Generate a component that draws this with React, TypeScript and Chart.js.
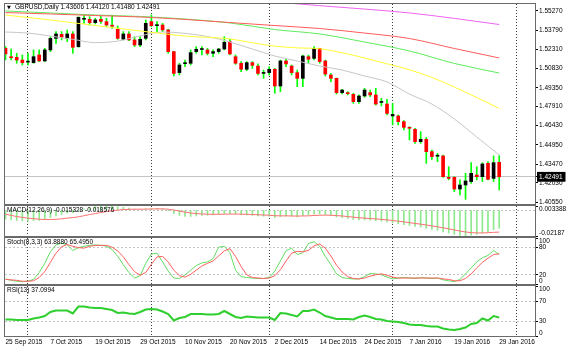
import React, { useEffect, useRef } from 'react';
import { Chart, registerables } from 'chart.js';

Chart.register(...registerables);

const FONT = '"Liberation Sans", Arial, sans-serif';
const FS = 6.5;
const transparent = 'rgba(0,0,0,0)';

// ---------- data ----------
const dateIdx = [0, 8, 16, 24, 32, 40, 48, 56, 64, 72, 80, 88];
const dateLabels = ['25 Sep 2015', '7 Oct 2015', '19 Oct 2015', '29 Oct 2015', '10 Nov 2015', '20 Nov 2015',
  '2 Dec 2015', '14 Dec 2015', '24 Dec 2015', '7 Jan 2016', '19 Jan 2016', '29 Jan 2016'];
const monthSepIdx = [4, 26, 47, 69, 91];

const open = [1.5239, 1.5170, 1.5170, 1.5149, 1.5133, 1.5129, 1.5188, 1.5142, 1.5227, 1.5316,
  1.5347, 1.5316, 1.5350, 1.5252, 1.5463, 1.5463, 1.5437, 1.5463, 1.5445, 1.5414,
  1.5386, 1.5309, 1.5350, 1.5304, 1.5265, 1.5316, 1.5445, 1.5414, 1.5419, 1.5381,
  1.5214, 1.5052, 1.5121, 1.5124, 1.5214, 1.5230, 1.5227, 1.5201, 1.5214, 1.5234,
  1.5291, 1.5175, 1.5124, 1.5078, 1.5129, 1.5103, 1.5046, 1.5052, 1.5078, 1.4949,
  1.5142, 1.5103, 1.5052, 1.5008, 1.5175, 1.5162, 1.5239, 1.5142, 1.5034, 1.5008,
  1.4898, 1.4893, 1.4885, 1.4828, 1.4872, 1.4898, 1.4880, 1.4822, 1.4810, 1.4718,
  1.4718, 1.4674, 1.4628, 1.4615, 1.4520, 1.4538, 1.4443, 1.4408, 1.4410, 1.4245,
  1.4245, 1.4155, 1.4186, 1.4212, 1.4263, 1.4250, 1.4353, 1.4237, 1.43606];
const high = [1.5252, 1.5234, 1.5201, 1.5188, 1.5201, 1.5227, 1.5227, 1.5239, 1.5329, 1.5368,
  1.5368, 1.5381, 1.5368, 1.5483, 1.5496, 1.5483, 1.5471, 1.5489, 1.5471, 1.5496,
  1.5412, 1.5368, 1.5368, 1.5329, 1.5329, 1.5458, 1.5496, 1.5445, 1.5432, 1.5386,
  1.5216, 1.5124, 1.5149, 1.5227, 1.5252, 1.5252, 1.5239, 1.5227, 1.5239, 1.5329,
  1.5309, 1.5188, 1.5137, 1.5137, 1.5137, 1.5119, 1.5072, 1.5098, 1.5085, 1.5149,
  1.5155, 1.5111, 1.5072, 1.5188, 1.5188, 1.5252, 1.5240, 1.5149, 1.5046, 1.5010,
  1.4923, 1.4905, 1.4893, 1.4880, 1.4931, 1.4918, 1.4931, 1.4854, 1.4846, 1.4815,
  1.4726, 1.4682, 1.4636, 1.4623, 1.4597, 1.4553, 1.4456, 1.4430, 1.4417, 1.4327,
  1.4250, 1.4225, 1.4276, 1.4358, 1.4327, 1.4358, 1.4366, 1.4410, 1.44120];
const low = [1.5149, 1.5149, 1.5124, 1.5111, 1.5111, 1.5124, 1.5137, 1.5137, 1.5214, 1.5278,
  1.5304, 1.5291, 1.5201, 1.5247, 1.5432, 1.5419, 1.5427, 1.5432, 1.5406, 1.5393,
  1.5309, 1.5304, 1.5298, 1.5252, 1.5252, 1.5304, 1.5406, 1.5368, 1.5368, 1.5201,
  1.5026, 1.5034, 1.5098, 1.5111, 1.5201, 1.5188, 1.5188, 1.5175, 1.5201, 1.5227,
  1.5188, 1.5116, 1.5059, 1.5067, 1.5085, 1.5034, 1.5008, 1.5034, 1.4893, 1.4905,
  1.5098, 1.5034, 1.4944, 1.4944, 1.5124, 1.5149, 1.5124, 1.5026, 1.4982, 1.4887,
  1.4887, 1.4880, 1.4815, 1.4815, 1.4862, 1.4867, 1.4802, 1.4795, 1.4726, 1.4649,
  1.4649, 1.4610, 1.4533, 1.4507, 1.4507, 1.4353, 1.4384, 1.4366, 1.4245, 1.4225,
  1.4135, 1.4109, 1.4076, 1.4199, 1.4225, 1.4212, 1.4225, 1.4212, 1.41480];
const close = [1.5196, 1.5167, 1.5149, 1.5129, 1.5137, 1.5175, 1.5142, 1.5227, 1.5316, 1.5350,
  1.5324, 1.5350, 1.5247, 1.5478, 1.5471, 1.5437, 1.5458, 1.5447, 1.5419, 1.5410,
  1.5316, 1.5350, 1.5304, 1.5265, 1.5309, 1.5432, 1.5414, 1.5421, 1.5381, 1.5214,
  1.5046, 1.5111, 1.5126, 1.5206, 1.5232, 1.5234, 1.5201, 1.5214, 1.5234, 1.5286,
  1.5196, 1.5124, 1.5078, 1.5129, 1.5108, 1.5046, 1.5052, 1.5078, 1.4949, 1.5142,
  1.5119, 1.5052, 1.5008, 1.5180, 1.5155, 1.5239, 1.5137, 1.5041, 1.5008, 1.4898,
  1.4918, 1.4890, 1.4828, 1.4872, 1.4918, 1.4880, 1.4810, 1.4830, 1.4738, 1.4730,
  1.4674, 1.4630, 1.4623, 1.4520, 1.4538, 1.4443, 1.4405, 1.4410, 1.4250, 1.4237,
  1.4155, 1.4186, 1.4217, 1.4276, 1.4250, 1.4348, 1.4230, 1.4358, 1.42491];

const maMagentaIdx = [32, 40, 48, 56, 64, 72, 80, 88];
const maMagenta = [1.5652, 1.5625, 1.5597, 1.5568, 1.5542, 1.5512, 1.5470, 1.5423];
const maRedIdx = [0, 8, 16, 24, 32, 40, 48, 56, 64, 72, 80, 88];
const maRed = [1.5515, 1.5504, 1.5492, 1.5481, 1.5462, 1.5438, 1.5415, 1.5392, 1.5357, 1.5315, 1.5238, 1.5165];
const maGreenIdx = [0, 8, 16, 24, 32, 40, 48, 56, 64, 72, 80, 88];
const maGreen = [1.5527, 1.5512, 1.5496, 1.5485, 1.5465, 1.5435, 1.5384, 1.5350, 1.5288, 1.5219, 1.5123, 1.5049];
const maYellowIdx = [0, 8, 16, 24, 32, 40, 44, 48, 52, 56, 60, 64, 68, 72, 76, 80, 84, 88];
const maYellow = [1.5496, 1.5458, 1.5415, 1.5373, 1.5334, 1.5312, 1.5282, 1.5256, 1.5243, 1.5236, 1.5205, 1.5165,
  1.5120, 1.5074, 1.5015, 1.4941, 1.4860, 1.4777];
const maGrayIdx = [0, 4, 8, 12, 16, 20, 24, 28, 32, 36, 40, 44, 48, 52, 56, 60, 64, 68, 72, 76, 80, 84, 88];
const maGray = [1.5365, 1.5357, 1.5334, 1.5309, 1.5283, 1.5295, 1.5335, 1.5365, 1.5355, 1.5330, 1.5288, 1.5234,
  1.5180, 1.5142, 1.5103, 1.5072, 1.5026, 1.4980, 1.4887, 1.4810, 1.4695, 1.4556, 1.4417];

const priceTicks = [1.5527, 1.5379, 1.5231, 1.5083, 1.4935, 1.4791, 1.4643, 1.4495, 1.4347, 1.4203, 1.4055];
const lastClose = 1.42491;
const PRICE_MIN = 1.40396;
const PRICE_MAX = 1.55809;

const macdMain = [-0.0078, -0.0083, -0.0088, -0.0092, -0.0093, -0.0090, -0.0088, -0.0080, -0.0065, -0.0050,
  -0.0038, -0.0026, -0.0022, -0.0005, 0.0010, 0.0020, 0.0028, 0.0032, 0.003388, 0.0033,
  0.0027, 0.0023, 0.0016, 0.0008, 0.0004, 0.0010, 0.0012, 0.0013, 0.0011, -0.0003,
  -0.0030, -0.0045, -0.0054, -0.0054, -0.0050, -0.0046, -0.0044, -0.0041, -0.0036, -0.0030,
  -0.0030, -0.0034, -0.0040, -0.0042, -0.0045, -0.0050, -0.0052, -0.0053, -0.0063, -0.0055,
  -0.0050, -0.0052, -0.0057, -0.0048, -0.0042, -0.0034, -0.0033, -0.0040, -0.0046, -0.0058,
  -0.0065, -0.0072, -0.0080, -0.0083, -0.0083, -0.0085, -0.0090, -0.0094, -0.0101, -0.0108,
  -0.0116, -0.0124, -0.0130, -0.0139, -0.0144, -0.0155, -0.0164, -0.0170, -0.0184, -0.0193,
  -0.0205, -0.0213, -0.02187, -0.0212, -0.0205, -0.0193, -0.0183, -0.0166, -0.015328];
const macdSignal = [-0.0035, -0.0045, -0.0055, -0.0062, -0.0068, -0.0073, -0.0077, -0.0080, -0.0080, -0.0078,
  -0.0074, -0.0068, -0.0064, -0.0057, -0.0048, -0.0038, -0.0030, -0.0021, -0.0013, -0.0006,
  -0.0001, 0.0004, 0.0006, 0.0007, 0.0007, 0.0008, 0.0009, 0.0010, 0.0010, 0.0007,
  0.0000, -0.0009, -0.0018, -0.0025, -0.0030, -0.0033, -0.0035, -0.0036, -0.0036, -0.0035,
  -0.0034, -0.0034, -0.0035, -0.0036, -0.0038, -0.0040, -0.0042, -0.0044, -0.0048, -0.0049,
  -0.0049, -0.0050, -0.0051, -0.0050, -0.0049, -0.0046, -0.0044, -0.0043, -0.0044, -0.0047,
  -0.0050, -0.0055, -0.0060, -0.0065, -0.0068, -0.0072, -0.0075, -0.0079, -0.0083, -0.0088,
  -0.0094, -0.0100, -0.0106, -0.0113, -0.0119, -0.0126, -0.0134, -0.0141, -0.0150, -0.0158,
  -0.0168, -0.0177, -0.0185, -0.0190, -0.0193, -0.0193, -0.0191, -0.0188, -0.018576];
const macdTicks = [-0.02187, 0, 0.003388];
const macdTickLabels = ['-0.02187', '', '0.003388'];

const stochMain = [11, 8, 6, 5, 6, 10, 25, 45, 70, 85,
  89, 85, 73, 79, 82, 84, 85, 84, 82, 75,
  60, 42, 25, 13, 18, 45, 65, 67, 48, 28,
  13, 12, 20, 30, 40, 46, 48, 55, 80, 82,
  68, 30, 16, 14, 13, 12, 12, 14, 28, 50,
  72, 78, 64, 68, 88, 92, 82, 60, 42, 22,
  14, 12, 11, 11, 16, 23, 22, 20, 15, 11,
  13, 14, 13, 12, 14, 13, 12, 13, 9, 7,
  5, 10, 22, 35, 48, 57, 62, 73, 63.888];
const stochSignal = [10, 9, 8, 6, 6, 7, 14, 27, 47, 67,
  81, 86, 82, 79, 78, 82, 84, 84, 84, 80,
  72, 59, 42, 27, 19, 25, 43, 59, 60, 48,
  30, 18, 15, 21, 30, 39, 45, 50, 61, 72,
  77, 60, 38, 20, 14, 13, 12, 13, 18, 31,
  50, 67, 71, 70, 73, 83, 87, 78, 61, 41,
  26, 16, 12, 11, 13, 17, 20, 22, 19, 15,
  13, 13, 13, 13, 13, 13, 13, 13, 11, 10,
  7, 7, 12, 22, 35, 47, 56, 64, 65.495];
const stochTicks = [0, 20, 80, 100];

const rsi = [33, 33, 32, 32, 32, 35, 37, 40, 48, 51,
  51, 51, 45, 59, 59, 57, 56, 56, 54, 52,
  46, 47, 45, 44, 48, 53, 54, 53, 49, 44,
  31, 36, 38, 44, 44, 44, 43, 43, 44, 50,
  44, 38, 36, 39, 38, 37, 37, 37, 32, 46,
  45, 42, 39, 50, 50, 53, 47, 40, 37, 34,
  34, 34, 33, 38, 41, 38, 34, 33, 30, 29,
  28, 26, 23, 22, 22, 20, 19, 19, 15, 13,
  12, 14, 17, 24, 26, 35, 31, 40, 37.0994];
const rsiTicks = [0, 30, 70, 100];

const mainTitle = 'GBPUSD,Daily 1.43606 1.44120 1.41480 1.42491';
const macdTitle = 'MACD(12,26,9) -0.015328 -0.018576';
const stochTitle = 'Stoch(8,3,3) 63.8880 65.4950';
const rsiTitle = 'RSI(13) 37.0994';

// ---------- layout helpers ----------
const X_MIN = -0.09;
const X_MAX = 94.38;
const idx = close.map((_, i) => i);

const panelDeco = {
  id: 'panelDeco',
  beforeDraw(chart: any, _a: any, opts: any) {
    if (!opts.edgeLabels) return;
    const s = chart.scales.y;
    const items = s.getLabelItems();
    for (const it of items) {
      const ty = it.options.translation[1];
      if (ty <= s.top + 0.5) it.options.textBaseline = 'top';
      else if (ty >= s.bottom - 0.5) it.options.textBaseline = 'bottom';
    }
  },
  afterDraw(chart: any, _a: any, opts: any) {
    const { ctx, chartArea: a } = chart;
    ctx.save();
    ctx.strokeStyle = '#6a6a6a';
    ctx.lineWidth = 1;
    ctx.strokeRect(a.left - 0.5, a.top - 0.5, a.right - a.left + 1, a.bottom - a.top + 1);
    if (opts.title) {
      ctx.fillStyle = '#000';
      ctx.textBaseline = 'middle';
      ctx.textAlign = 'left';
      ctx.font = `${FS}px ${FONT}`;
      ctx.fillText(opts.title, opts.tx, opts.ty);
      if (opts.arrow) {
        ctx.font = '5px "DejaVu Sans"';
        ctx.fillText('\u25BC', 7, opts.ty);
      }
    }
    ctx.restore();
  },
};

const xHidden = () => ({
  type: 'linear', min: X_MIN, max: X_MAX, bounds: 'data', offset: false, display: false,
  grid: { offset: false },
});
const xSep = () => ({
  type: 'linear', position: 'top', min: X_MIN, max: X_MAX, bounds: 'data', offset: false,
  afterBuildTicks: (s: any) => { s.ticks = monthSepIdx.map((v) => ({ value: v })); },
  afterFit: (s: any) => { s.height = 0; },
  ticks: { display: false },
  grid: { offset: false, drawTicks: false, color: '#3a3a3a', lineWidth: 1 },
  border: { display: false, dash: [1, 2] },
});

function yAxis(min: number, max: number, ticks: number[], label: (v: number) => string,
  levelVals: number[], dash: number[], extraTicks: any = {}, extraGrid: any = {}) {
  return {
    type: 'linear', position: 'right', min, max, bounds: 'data', beginAtZero: false,
    afterBuildTicks: (s: any) => { s.ticks = ticks.map((v) => ({ value: v })); },
    afterFit: (s: any) => { s.width = 38; s.paddingTop = 0; s.paddingBottom = 0; },
    border: { display: false, dash },
    grid: {
      color: (c: any) => (c.tick && levelVals.includes(c.tick.value) ? '#c4c4c4' : transparent),
      tickColor: '#000', tickLength: 3, lineWidth: 1, ...extraGrid,
    },
    ticks: {
      autoSkip: false, padding: 1, color: '#000', font: { family: FONT, size: FS },
      callback: (v: any) => label(Number(v)), ...extraTicks,
    },
  };
}

const baseOptions = (padding: any, deco: any, scales: any) => ({
  responsive: false,
  animation: false,
  devicePixelRatio: 1,
  events: [],
  layout: { padding },
  plugins: { legend: { display: false }, tooltip: { enabled: false }, panelDeco: deco },
  scales,
});

const line = (xs: number[], ys: number[], color: string, width = 1, smooth = false, order = 0) => ({
  type: 'line',
  data: xs.map((x, k) => ({ x, y: ys[k] })),
  borderColor: color,
  borderWidth: width,
  pointRadius: 0,
  fill: false,
  order,
  ...(smooth ? { cubicInterpolationMode: 'monotone' } : { tension: 0 }),
});

const mainConfig = () => ({
  type: 'bar',
  data: {
    datasets: [
      line(maMagentaIdx, maMagenta, '#f062f0', 1, true),
      line(maRedIdx, maRed, '#ff5b5b', 1, true),
      line(maGreenIdx, maGreen, '#5cec5c', 1, true),
      line(maYellowIdx, maYellow, '#ffff33', 1, true),
      line(maGrayIdx, maGray, '#c6c6c6', 1, true),
      {
        type: 'bar',
        data: idx.map((i) => ({ x: i, y: [open[i], close[i]] })),
        backgroundColor: idx.map((i) => (close[i] >= open[i] ? '#000000' : '#ff0000')),
        barThickness: 3, minBarLength: 1, grouped: false, order: 1,
      },
      {
        type: 'bar',
        data: idx.map((i) => ({ x: i, y: [low[i], high[i]] })),
        backgroundColor: '#00ff00',
        barThickness: 1, grouped: false, order: 2,
      },
    ],
  },
  options: baseOptions({ top: 4, bottom: 1, left: 5, right: 0 },
    { title: mainTitle, tx: 15, ty: 7.5, arrow: true },
    {
      x: xHidden(),
      xs: xSep(),
      y: yAxis(PRICE_MIN, PRICE_MAX, [...priceTicks, lastClose].sort((a, b) => a - b),
        (v) => v.toFixed(5), [lastClose], [],
        {
          color: (c: any) => (c.tick && c.tick.value === lastClose ? '#ffffff' : '#000000'),
          showLabelBackdrop: (c: any) => !!(c.tick && c.tick.value === lastClose),
          backdropColor: '#000000',
          backdropPadding: { top: 1, bottom: 1, left: 2, right: 3 },
        }),
    }),
});

const macdConfig = () => ({
  type: 'bar',
  data: {
    datasets: [
      line(idx, macdSignal, '#ff7070', 1, false, 0),
      {
        type: 'bar',
        data: idx.map((i) => ({ x: i, y: macdMain[i] })),
        backgroundColor: '#8ee88e',
        barThickness: 1, grouped: false, order: 1,
      },
    ],
  },
  options: baseOptions({ top: 1, bottom: 1, left: 5, right: 0 },
    { title: macdTitle, tx: 7, ty: 5, edgeLabels: true },
    {
      x: xHidden(),
      xs: xSep(),
      y: yAxis(-0.02187, 0.003388, macdTicks,
        (v) => macdTickLabels[macdTicks.indexOf(v)] ?? '', [0], [2, 2], {},
        { tickColor: (c: any) => (c.tick && c.tick.value === 0 ? transparent : '#000') }),
    }),
});

const stochConfig = () => ({
  type: 'line',
  data: {
    datasets: [
      line(idx, stochMain, '#62dc62', 1, false, 1),
      line(idx, stochSignal, '#ff5e5e', 1, false, 0),
    ],
  },
  options: baseOptions({ top: 1, bottom: 1, left: 5, right: 0 },
    { title: stochTitle, tx: 7, ty: 5.3, edgeLabels: true },
    {
      x: xHidden(),
      xs: xSep(),
      y: yAxis(0, 100, stochTicks, (v) => String(v), [20, 80], [2, 2]),
    }),
});

const rsiConfig = () => ({
  type: 'line',
  data: { datasets: [line(idx, rsi, '#2fcf2f', 2, false, 0)] },
  options: baseOptions({ top: 1, bottom: 0, left: 5, right: 0 },
    { title: rsiTitle, tx: 7, ty: 5, edgeLabels: true },
    {
      x: xHidden(),
      xs: xSep(),
      xd: {
        type: 'linear', position: 'bottom', min: X_MIN, max: X_MAX, bounds: 'data', offset: false,
        afterBuildTicks: (s: any) => { s.ticks = dateIdx.map((v) => ({ value: v })); },
        afterFit: (s: any) => { s.height = 20; s.paddingLeft = 0; s.paddingRight = 0; },
        border: { display: false },
        grid: { offset: false, drawOnChartArea: false, drawTicks: true, tickLength: 2, color: transparent },
        ticks: {
          autoSkip: false, maxRotation: 0, minRotation: 0, align: 'start', padding: 0,
          color: '#000', font: { family: FONT, size: FS },
          callback: (v: any) => dateLabels[dateIdx.indexOf(Number(v))] ?? '',
        },
      },
      y: yAxis(0, 100, rsiTicks, (v) => String(v), [30, 70], [2, 2]),
    }),
});

function Panel({ top, height, build }: { top: number; height: number; build: () => any }) {
  const ref = useRef<HTMLCanvasElement>(null);
  useEffect(() => {
    const cfg: any = build();
    cfg.plugins = [panelDeco];
    const chart = new Chart(ref.current as HTMLCanvasElement, cfg);
    return () => chart.destroy();
  }, []);
  return (
    <canvas
      ref={ref}
      width={573}
      height={height}
      style={{ position: 'absolute', left: 0, top, width: 573, height, display: 'block' }}
    />
  );
}

export default function App() {
  return (
    <div style={{ position: 'fixed', left: 0, top: 0, width: 573, height: 356, background: '#ffffff', overflow: 'hidden' }}>
      <Panel top={0} height={205} build={mainConfig} />
      <Panel top={205} height={32} build={macdConfig} />
      <Panel top={237} height={48} build={stochConfig} />
      <Panel top={285} height={71} build={rsiConfig} />
    </div>
  );
}
